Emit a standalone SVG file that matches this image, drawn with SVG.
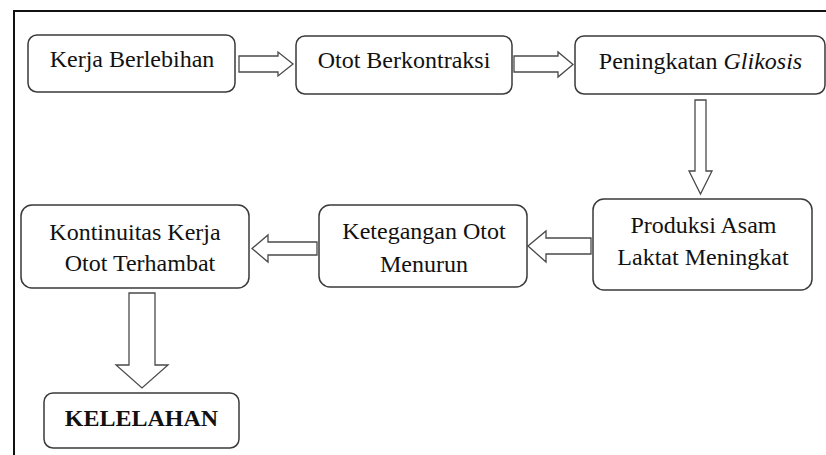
<svg xmlns="http://www.w3.org/2000/svg" width="826" height="455" viewBox="0 0 826 455">
<rect width="826" height="455" fill="#fff"/>
<path d="M14,455 V11 H826" fill="none" stroke="#111" stroke-width="2"/>
<g id="connectors" fill="#fff" stroke="#4a4a4a" stroke-width="1.3">
<polygon points="239,56 278,56 278,52 293,64 278,76 278,72 239,72"/>
<polygon points="514,56 558,56 558,52 573,64.5 558,77 558,72 514,72"/>
<polygon points="695,100 706,100 706,171 712,171 700.5,194 689,171 695,171"/>
<polygon points="591,238 546,238 546,231 528,246 546,262 546,254 591,254"/>
<polygon points="317,242 268,242 268,235 252,248.5 268,262 268,255 317,255"/>
<polygon points="129,293 155,293 155,365 168,365 142,388 116,365 129,365"/>
</g>
<g id="n1"><rect x="28" y="35" width="207" height="57" rx="9" fill="#fff" stroke="#3a3a3a" stroke-width="1.5"/><text font-family="Liberation Serif" font-size="24" text-anchor="middle" x="132" y="67" fill="#111">Kerja Berlebihan</text></g>
<g id="n2"><rect x="296" y="36" width="216" height="58" rx="9" fill="#fff" stroke="#3a3a3a" stroke-width="1.5"/><text font-family="Liberation Serif" font-size="24" text-anchor="middle" x="404" y="68" fill="#111">Otot Berkontraksi</text></g>
<g id="n3"><rect x="575" y="36" width="250" height="58" rx="9" fill="#fff" stroke="#3a3a3a" stroke-width="1.5"/><text font-family="Liberation Serif" font-size="24" text-anchor="middle" x="700.5" y="69" fill="#111">Peningkatan <tspan font-style="italic">Glikosis</tspan></text></g>
<g id="n4"><rect x="593" y="199" width="219" height="91" rx="11" fill="#fff" stroke="#3a3a3a" stroke-width="1.5"/><text font-family="Liberation Serif" font-size="24" text-anchor="middle" x="703.5" y="233" fill="#111">Produksi Asam</text><text font-family="Liberation Serif" font-size="24" text-anchor="middle" x="703" y="265" fill="#111">Laktat Meningkat</text></g>
<g id="n5"><rect x="319" y="205" width="208" height="82" rx="11" fill="#fff" stroke="#3a3a3a" stroke-width="1.5"/><text font-family="Liberation Serif" font-size="24" text-anchor="middle" x="424" y="239" fill="#111">Ketegangan Otot</text><text font-family="Liberation Serif" font-size="24" text-anchor="middle" x="424" y="272" fill="#111">Menurun</text></g>
<g id="n6"><rect x="21" y="205" width="228" height="83" rx="11" fill="#fff" stroke="#3a3a3a" stroke-width="1.5"/><text font-family="Liberation Serif" font-size="24" text-anchor="middle" x="135" y="240" fill="#111">Kontinuitas Kerja</text><text font-family="Liberation Serif" font-size="24" text-anchor="middle" x="140" y="271" fill="#111">Otot Terhambat</text></g>
<g id="n7"><rect x="44" y="393" width="195" height="55" rx="9" fill="#fff" stroke="#3a3a3a" stroke-width="1.5"/><text font-family="Liberation Serif" font-size="24" font-weight="bold" text-anchor="middle" x="141.5" y="426" fill="#111">KELELAHAN</text></g>
</svg>
